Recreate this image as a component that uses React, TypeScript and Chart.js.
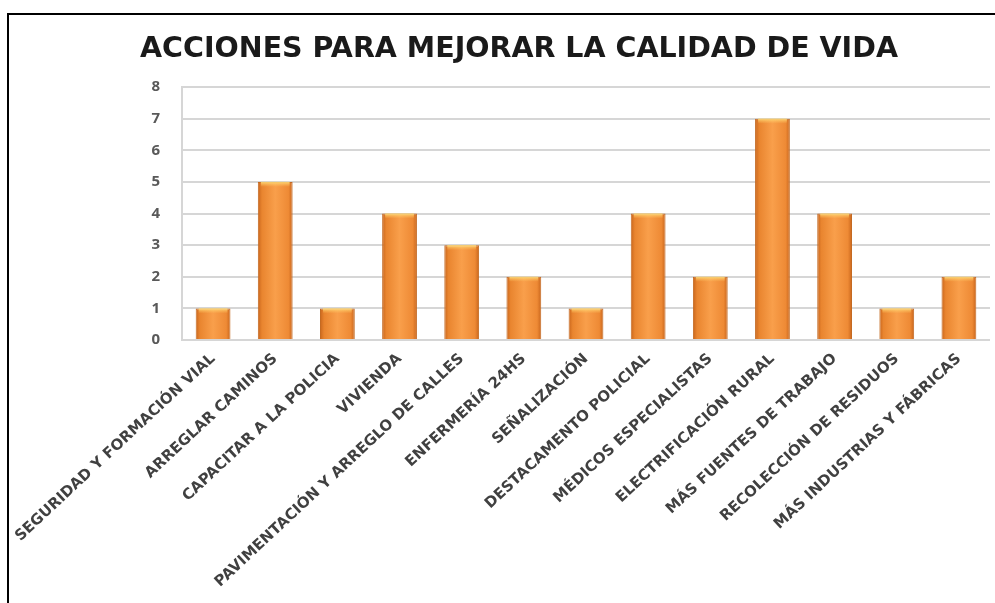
import React, { useEffect, useRef } from "react";
import { Chart, registerables } from "chart.js";

Chart.register(...registerables);

const TITLE = "ACCIONES PARA MEJORAR LA CALIDAD DE VIDA";
const categories = [
  "SEGURIDAD Y FORMACIÓN VIAL",
  "ARREGLAR CAMINOS",
  "CAPACITAR A LA POLICIA",
  "VIVIENDA",
  "PAVIMENTACIÓN Y ARREGLO DE CALLES",
  "ENFERMERÍA 24HS",
  "SEÑALIZACIÓN",
  "DESTACAMENTO POLICIAL",
  "MÉDICOS ESPECIALISTAS",
  "ELECTRIFICACIÓN RURAL",
  "MÁS FUENTES DE TRABAJO",
  "RECOLECCIÓN DE RESIDUOS",
  "MÁS INDUSTRIAS Y FÁBRICAS",
];
const values = [1, 5, 1, 4, 3, 2, 1, 4, 2, 7, 4, 1, 2];
const yMin = 0;
const yMax = 8;
const yStep = 1;

const BAR_PCT = 0.56;

const barHighlight = {
  id: "barHighlight",
  afterDatasetsDraw(chart: any) {
    const meta = chart.getDatasetMeta(0);
    const ctx = chart.ctx;
    ctx.save();
    meta.data.forEach((bar: any) => {
      const { x, y, width } = bar.getProps(["x", "y", "width"], true);
      const g = ctx.createLinearGradient(0, y, 0, y + 5);
      g.addColorStop(0, "rgba(255,220,120,0.95)");
      g.addColorStop(1, "rgba(255,200,100,0)");
      ctx.fillStyle = g;
      ctx.fillRect(x - width / 2 + 3, y, width - 6, 5);
    });
    ctx.restore();
  },
};

export default function App() {
  const ref = useRef<HTMLCanvasElement>(null);
  useEffect(() => {
    if (!ref.current) return;
    const chart = new Chart(ref.current, {
      type: "bar",
      data: {
        labels: categories,
        datasets: [
          {
            data: values,
            backgroundColor: (c: any) => {
              const ch = c.chart;
              const xs = ch.scales?.x;
              if (!xs || !ch.chartArea) return "#F79646";
              const cx = xs.getPixelForValue(c.dataIndex);
              const w = (xs.width / categories.length) * BAR_PCT;
              const g = ch.ctx.createLinearGradient(cx - w / 2, 0, cx + w / 2, 0);
              g.addColorStop(0, "#C8651C");
              g.addColorStop(0.12, "#E9852F");
              g.addColorStop(0.5, "#F99F4B");
              g.addColorStop(0.88, "#EE8A35");
              g.addColorStop(1, "#C8651C");
              return g;
            },
            borderColor: "#C46A22",
            borderWidth: 1,
            categoryPercentage: 1,
            barPercentage: BAR_PCT,
          },
        ],
      },
      options: {
        animation: false,
        responsive: false,
        layout: { padding: { left: 48, right: 5, top: 32, bottom: 0 } },
        plugins: {
          legend: { display: false },
          tooltip: { enabled: false },
          title: {
            display: true,
            text: TITLE,
            color: "#1a1a1a",
            font: { family: "DejaVu Sans", size: 28.5, weight: "bold" },
            padding: { top: 0, bottom: 20.8 },
          },
        },
        scales: {
          x: {
            grid: { display: false },
            border: { display: false },
            ticks: {
              autoSkip: false,
              maxRotation: 43,
              minRotation: 43,
              color: "#404040",
              font: { family: "DejaVu Sans", size: 15, weight: "bold" },
              padding: 2,
            },
            afterFit: (s: any) => {
              s.height = 263;
            },
          },
          y: {
            min: yMin,
            max: yMax,
            ticks: {
              stepSize: yStep,
              color: "#595959",
              font: { family: "Open Sans", size: 15, weight: "bold" },
              padding: 22,
            },
            grid: { color: "#D6D6D6", lineWidth: 2, drawTicks: false },
            border: { display: true, color: "#D6D6D6", width: 2 },
            afterFit: (s: any) => {
              s.width = 134;
            },
          },
        },
      },
      plugins: [barHighlight],
    });
    return () => chart.destroy();
  }, []);

  return (
    <div
      style={{
        position: "fixed",
        left: 0,
        top: 0,
        width: 995,
        height: 603,
        overflow: "hidden",
        background: "#fff",
      }}
    >
      <div
        style={{
          position: "absolute",
          left: 7,
          top: 13,
          width: 1100,
          height: 700,
          border: "2px solid #000",
          boxSizing: "border-box",
        }}
      />
      <canvas
        ref={ref}
        width={995}
        height={603}
        style={{ position: "absolute", left: 0, top: 0, width: 995, height: 603 }}
      />
    </div>
  );
}
